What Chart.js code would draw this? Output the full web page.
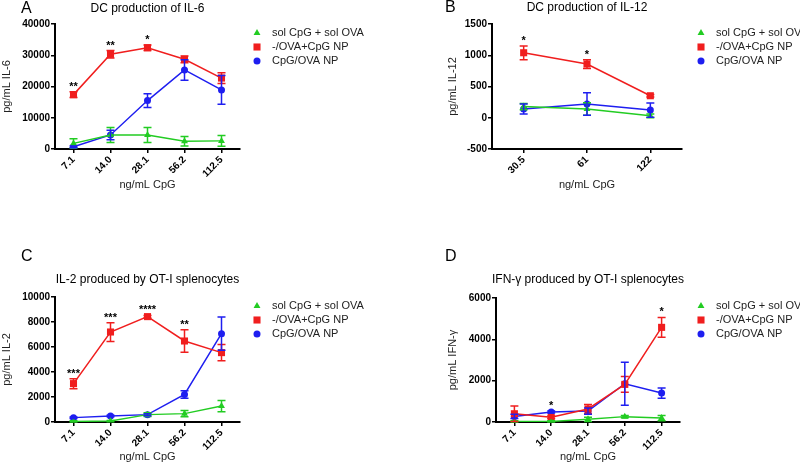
<!DOCTYPE html>
<html>
<head>
<meta charset="utf-8">
<script src="https://cdn.jsdelivr.net/npm/chart.js@4/dist/chart.umd.min.js"></script>
<style>
  body { margin: 0; background: #fff; }
  #wrap { position: relative; width: 800px; height: 464px; }
  canvas { position: absolute; }
</style>
</head>
<body>
<div id="wrap">
  <canvas id="panelA" width="400" height="232" style="left:0;top:0"></canvas>
  <canvas id="panelB" width="400" height="232" style="left:400px;top:0"></canvas>
  <canvas id="panelC" width="400" height="232" style="left:0;top:232px"></canvas>
  <canvas id="panelD" width="400" height="232" style="left:400px;top:232px"></canvas>
</div>
<script>
// values (mean and error bar half-length)
const doses = ['7.1', '14.0', '28.1', '56.2', '112.5'];
const dosesIl12 = ['30.5', '61', '122'];
const seriesNames = ['sol CpG + sol OVA', '-/OVA+CpG NP', 'CpG/OVA NP'];

const il6Sol = [1800, 4500, 4500, 2500, 2600];
const il6SolErr = [1500, 2400, 2400, 1500, 1700];
const il6Mix = [17400, 30300, 32400, 28700, 22700];
const il6MixErr = [900, 1200, 900, 1100, 1700];
const il6Np = [700, 4500, 15500, 25300, 18900];
const il6NpErr = [300, 1500, 2200, 3300, 4600];
const il6Stars = ['**', '**', '*', '', ''];

const il12Sol = [180, 140, 32];
const il12SolErr = [50, 100, 30];
const il12Mix = [1040, 860, 352];
const il12MixErr = [110, 70, 20];
const il12Np = [140, 220, 123];
const il12NpErr = [80, 180, 115];
const il12Stars = ['*', '*', ''];

const il2Sol = [50, 80, 590, 670, 1280];
const il2SolErr = [50, 50, 150, 250, 450];
const il2Mix = [3070, 7200, 8430, 6480, 5550];
const il2MixErr = [400, 750, 100, 900, 650];
const il2Np = [350, 480, 590, 2210, 7070];
const il2NpErr = [60, 60, 80, 300, 1330];
const il2Stars = ['***', '***', '****', '**', ''];

const ifnSol = [30, 30, 130, 260, 190];
const ifnSolErr = [30, 30, 100, 50, 130];
const ifnMix = [400, 225, 630, 1820, 4580];
const ifnMixErr = [370, 60, 220, 380, 480];
const ifnNp = [270, 480, 530, 1850, 1400];
const ifnNpErr = [100, 50, 150, 1040, 250];
const ifnStars = ['', '*', '', '', '*'];

const colors = ['#22cc22', '#f01e1e', '#1e1ef0'];
const styles = ['triangle', 'rect', 'circle'];
const radii = [4, 5, 3.5];
const FONT = "'Liberation Sans', Arial, sans-serif";

// error bars, stars, panel letter, title and legend
const panelDecor = {
    id: 'panelDecor',
    afterDatasetsDraw(chart, args, opts) {
        const ctx = chart.ctx;
        const xs = chart.scales.x, ys = chart.scales.y;
        const tops = [];
        chart.data.datasets.forEach((ds) => {
            ctx.save();
            ctx.strokeStyle = ds.borderColor;
            ctx.lineWidth = 1.5;
            ds.data.forEach((v, i) => {
                const e = ds.errors[i];
                const x = xs.getPixelForValue(i);
                const y1 = ys.getPixelForValue(v + e);
                const y2 = ys.getPixelForValue(v - e);
                tops[i] = Math.min(tops[i] ?? Infinity, y1);
                ctx.beginPath();
                ctx.moveTo(x, y1); ctx.lineTo(x, y2);
                ctx.moveTo(x - 4, y1); ctx.lineTo(x + 4, y1);
                ctx.moveTo(x - 4, y2); ctx.lineTo(x + 4, y2);
                ctx.stroke();
            });
            ctx.restore();
        });

        ctx.save();
        ctx.fillStyle = '#000';
        ctx.font = 'bold 11px ' + FONT;
        ctx.textAlign = 'center';
        ctx.textBaseline = 'alphabetic';
        opts.stars.forEach((s, i) => {
            if (s) ctx.fillText(s, xs.getPixelForValue(i), tops[i] - 2);
        });

        ctx.textBaseline = 'middle';
        ctx.font = '16px ' + FONT;
        ctx.textAlign = 'left';
        ctx.fillText(opts.letter, opts.letterX, opts.letterY);
        ctx.font = '12px ' + FONT;
        ctx.textAlign = 'center';
        ctx.fillText(opts.title, (chart.chartArea.left + chart.chartArea.right) / 2, opts.titleY);

        ctx.font = '11px ' + FONT;
        ctx.textAlign = 'left';
        chart.data.datasets.forEach((ds, di) => {
            const y = opts.legendY + di * 14;
            ctx.fillStyle = ds.borderColor;
            ctx.strokeStyle = ds.borderColor;
            Chart.helpers.drawPoint(ctx, { pointStyle: ds.pointStyle, radius: ds.pointRadius, rotation: 0, borderWidth: 0 }, opts.legendX, y);
            ctx.fillStyle = '#222';
            ctx.fillText(ds.label, opts.legendX + 15, y);
        });
        ctx.restore();
    }
};

const makeSets = (vals, errs) => vals.map((v, i) => ({
    label: seriesNames[i],
    data: v,
    errors: errs[i],
    borderColor: colors[i],
    backgroundColor: colors[i],
    pointStyle: styles[i],
    pointRadius: radii[i],
    pointBorderWidth: 0,
    borderWidth: 1.5,
    tension: 0
}));

const makePanel = (id, p) => {
    new Chart(id, {
        type: 'line',
        data: { labels: p.labels, datasets: makeSets(p.vals, p.errs) },
        plugins: [panelDecor],
        options: {
            responsive: false,
            animation: false,
            layout: { padding: p.pad },
            plugins: {
                legend: { display: false },
                tooltip: { enabled: false },
                panelDecor: p.decor
            },
            scales: {
                x: {
                    offset: true,
                    afterFit: s => { s.height = p.xh; },
                    grid: { drawOnChartArea: false, offset: false, color: '#000', lineWidth: 1.5, tickLength: 4 },
                    border: { color: '#000', width: 2 },
                    ticks: { color: '#000', font: { family: FONT, size: 10, weight: 'bold' }, minRotation: 45, maxRotation: 45, padding: 1 },
                    title: { display: true, text: 'ng/mL CpG', color: '#222', font: { family: FONT, size: 11 }, padding: 0 }
                },
                y: {
                    min: p.min, max: p.max,
                    afterFit: s => { s.width = p.yw; },
                    grid: { drawOnChartArea: false, color: '#000', lineWidth: 1.5, tickLength: 4 },
                    border: { color: '#000', width: 2 },
                    ticks: { stepSize: p.step, color: '#000', font: { family: FONT, size: 10, weight: 'bold' }, padding: 1, callback: v => String(v) },
                    title: { display: true, text: p.ytitle, color: '#222', font: { family: FONT, size: 11 }, padding: 0 }
                }
            }
        }
    });
};

makePanel('panelA', {
    labels: doses, vals: [il6Sol, il6Mix, il6Np], errs: [il6SolErr, il6MixErr, il6NpErr],
    min: 0, max: 40000, step: 10000, ytitle: 'pg/mL IL-6',
    pad: { top: 24, left: 0, right: 160, bottom: 40 }, yw: 55, xh: 43,
    decor: { stars: il6Stars, letter: 'A', letterX: 21, letterY: 9, title: 'DC production of IL-6', titleY: 9, legendX: 257, legendY: 33 }
});

makePanel('panelB', {
    labels: dosesIl12, vals: [il12Sol, il12Mix, il12Np], errs: [il12SolErr, il12MixErr, il12NpErr],
    min: -500, max: 1500, step: 500, ytitle: 'pg/mL IL-12',
    pad: { top: 24, left: 46, right: 118, bottom: 40 }, yw: 46, xh: 43,
    decor: { stars: il12Stars, letter: 'B', letterX: 45, letterY: 8, title: 'DC production of IL-12', titleY: 8, legendX: 301, legendY: 33 }
});

makePanel('panelC', {
    labels: doses, vals: [il2Sol, il2Mix, il2Np], errs: [il2SolErr, il2MixErr, il2NpErr],
    min: 0, max: 10000, step: 2000, ytitle: 'pg/mL IL-2',
    pad: { top: 65, left: 0, right: 160, bottom: 0 }, yw: 55, xh: 42,
    decor: { stars: il2Stars, letter: 'C', letterX: 21, letterY: 25, title: 'IL-2 produced by OT-I splenocytes', titleY: 48, legendX: 257, legendY: 74 }
});

makePanel('panelD', {
    labels: doses, vals: [ifnSol, ifnMix, ifnNp], errs: [ifnSolErr, ifnMixErr, ifnNpErr],
    min: 0, max: 6000, step: 2000, ytitle: 'pg/mL IFN-γ',
    pad: { top: 66, left: 46, right: 120, bottom: 0 }, yw: 50, xh: 42,
    decor: { stars: ifnStars, letter: 'D', letterX: 45, letterY: 25, title: 'IFN-γ produced by OT-I splenocytes', titleY: 48, legendX: 301, legendY: 74 }
});
</script>
</body>
</html>
